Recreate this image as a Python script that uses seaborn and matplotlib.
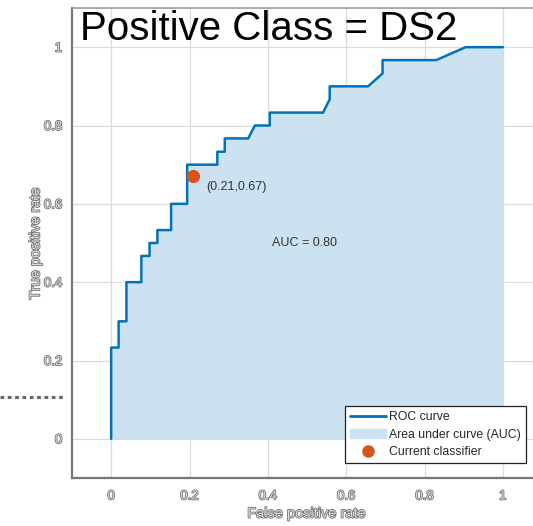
import matplotlib
matplotlib.use("Agg")
import matplotlib.pyplot as plt
import matplotlib.patheffects as pe
from matplotlib.lines import Line2D
from matplotlib.patches import Patch
import seaborn as sns
import pandas as pd

# ---- data ----
fpr = [0, 0, 0.019, 0.019, 0.039, 0.039, 0.077, 0.077, 0.098, 0.098, 0.118, 0.118,
       0.153, 0.153, 0.194, 0.194, 0.271, 0.271, 0.29, 0.29, 0.35, 0.367, 0.405, 0.405,
       0.541, 0.558, 0.558, 0.656, 0.693, 0.693, 0.83, 0.905, 1.0]
tpr = [0, 0.233, 0.233, 0.30, 0.30, 0.40, 0.40, 0.467, 0.467, 0.50, 0.50, 0.533,
       0.533, 0.60, 0.60, 0.70, 0.70, 0.733, 0.733, 0.767, 0.767, 0.80, 0.80, 0.833,
       0.833, 0.867, 0.90, 0.90, 0.933, 0.967, 0.967, 1.0, 1.0]
current_fpr = [0.21]
current_tpr = [0.67]
auc_value = 0.80
ticks = [0, 0.2, 0.4, 0.6, 0.8, 1]
tick_labels = ["0", "0.2", "0.4", "0.6", "0.8", "1"]
title_text = "Positive Class = DS2"

sns.set_theme(style="white")
plt.rcParams['font.family'] = ['Liberation Sans', 'DejaVu Sans']

BLUE = "#0072BD"
FILL = "#CCE2F1"
ORANGE = "#D95319"

fig = plt.figure(figsize=(5.33, 5.26), dpi=100)
ax = fig.add_axes([72/533, 48/526, 470/533, 470/526])

df = pd.DataFrame({"fpr": fpr, "tpr": tpr})
ax.fill_between(df["fpr"], 0, df["tpr"], color=FILL, lw=0, zorder=1)
sns.lineplot(data=df, x="fpr", y="tpr", sort=False, estimator=None, color=BLUE,
             lw=1.8, ax=ax, zorder=3)
sns.scatterplot(x=current_fpr, y=current_tpr, color=ORANGE, s=90, edgecolor=ORANGE,
                linewidth=0, ax=ax, zorder=4)

ax.text(current_fpr[0] + 0.033, current_tpr[0] - 0.028,
        f"({current_fpr[0]:.2f},{current_tpr[0]:.2f})", fontsize=9, color="#333333",
        va="center", ha="left", zorder=5)
ax.text(0.41, 0.50, f"AUC = {auc_value:.2f}", fontsize=9, color="#333333",
        va="center", ha="left", zorder=5)

ax.set_xlim(-0.1, 1.1)
ax.set_ylim(-0.1, 1.1)
ax.set_xticks(ticks)
ax.set_yticks(ticks)
ax.set_xticklabels(tick_labels)
ax.set_yticklabels(tick_labels)
ax.grid(True, color="#dcdcdc", lw=0.9, zorder=0)
ax.set_axisbelow(True)
for s in ax.spines.values():
    s.set_color("#999999")
    s.set_linewidth(1.2)
ax.spines["left"].set_color("#777777")
ax.spines["bottom"].set_color("#777777")
ax.spines["left"].set_linewidth(1.6)
ax.spines["bottom"].set_linewidth(1.6)
ax.tick_params(direction="in", length=3, color="#666666", width=0.8,
               labelsize=9.5, labelcolor="#dddddd")
ax.tick_params(axis="x", pad=9)
ax.tick_params(axis="y", pad=7)
stroke = [pe.withStroke(linewidth=1.1, foreground="#6a6a6a")]
for lab in ax.get_xticklabels() + ax.get_yticklabels():
    lab.set_path_effects(stroke)

ax.set_xlabel("False positive rate", fontsize=10.5, color="#dddddd", labelpad=3)
ax.set_ylabel("True positive rate", fontsize=10.5, color="#dddddd", labelpad=1)
ax.xaxis.label.set_path_effects(stroke)
ax.yaxis.label.set_path_effects(stroke)

handles = [Line2D([0], [0], color=BLUE, lw=2),
           Patch(facecolor=FILL, edgecolor=FILL),
           Line2D([0], [0], marker="o", color="none", markerfacecolor=ORANGE,
                  markeredgecolor=ORANGE, markersize=8)]
leg = ax.legend(handles, ["ROC curve", "Area under curve (AUC)", "Current classifier"],
                loc="lower right", fontsize=8.8, frameon=True,
                fancybox=False, edgecolor="#222222", framealpha=1,
                handlelength=2.9, handletextpad=0.3, borderpad=0.4,
                labelspacing=0.45, borderaxespad=0)
leg.get_frame().set_linewidth(0.9)
leg.set_bbox_to_anchor((526/533, (526-463)/526), transform=fig.transFigure)
leg.set_zorder(10)

fig.text(80/533, 1 - 29/526, title_text, fontsize=29, color="black",
         ha="left", va="center")

fig.add_artist(Line2D([0, 65/533], [1 - 397/526, 1 - 397/526], color="#666666",
                      lw=2.2, ls=(0, (1.2, 1.2)), transform=fig.transFigure))

fig.savefig("out.png", dpi=100)
